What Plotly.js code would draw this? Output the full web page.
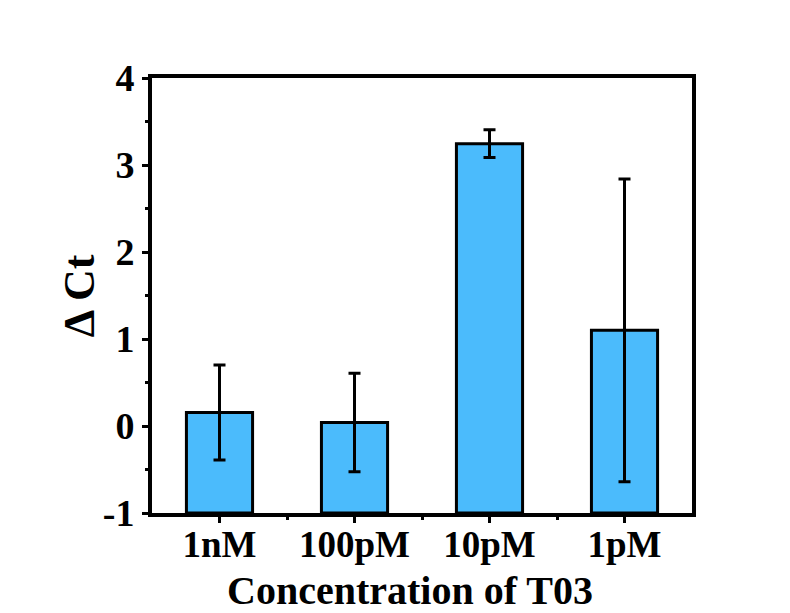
<!DOCTYPE html>
<html>
<head>
<meta charset="utf-8">
<script src="https://cdn.plot.ly/plotly-3.0.1.min.js"></script>
<style>html,body{margin:0;padding:0;background:#fff;}#chart{width:790px;height:613px;}</style>
</head>
<body>
<div id="chart"></div>
<script>
const categories = ["1nM", "100pM", "10pM", "1pM"];
const deltaCt = [0.155, 0.04, 3.245, 1.10];
const errors = [0.545, 0.565, 0.16, 1.74];
const yTickVals = [-1, 0, 1, 2, 3, 4];
const yTickText = ["-1", "0", "1", "2", "3", "4"];
const xTitle = "Concentration of T03";
const yTitle = "Δ Ct";
const baseline = -1;

const xs = categories.map((c, i) => i);
const font = "'Liberation Serif', 'Times New Roman', serif";

const bars = {
  type: "bar",
  x: xs,
  y: deltaCt.map(v => v - baseline),
  base: baseline,
  width: 0.49,
  marker: {color: "rgb(75,187,252)", line: {color: "#000", width: 3}},
  hoverinfo: "skip"
};
const errs = {
  type: "scatter",
  mode: "markers",
  x: xs,
  y: deltaCt,
  marker: {size: 0.1, color: "rgba(0,0,0,0)"},
  error_y: {type: "data", array: errors, visible: true, color: "#000", thickness: 3, width: 6},
  hoverinfo: "skip"
};

const layout = {
  width: 790, height: 613,
  margin: {l: 152, r: 98, t: 78, b: 100},
  paper_bgcolor: "#fff", plot_bgcolor: "#fff",
  showlegend: false,
  font: {family: font, color: "#000"},
  xaxis: {
    range: [-0.5, 3.5],
    tickmode: "array", tickvals: xs, ticktext: categories,
    ticks: "outside", ticklen: 6, tickwidth: 3, tickcolor: "#000",
    ticklabelstandoff: -10,
    minor: {tickmode: "array", tickvals: [0.5, 1.5, 2.5], ticks: "outside", ticklen: 3, tickwidth: 3, tickcolor: "#000"},
    showline: true, linewidth: 4, linecolor: "#000", mirror: true,
    showgrid: false, zeroline: false,
    tickfont: {family: font, size: 37, color: "#000", weight: "bold"}
  },
  yaxis: {
    range: [-1, 4],
    tickmode: "array", tickvals: yTickVals, ticktext: yTickText,
    ticks: "outside", ticklen: 6, tickwidth: 3, tickcolor: "#000",
    minor: {tickmode: "linear", tick0: -0.5, dtick: 1, ticks: "outside", ticklen: 3, tickwidth: 3, tickcolor: "#000"},
    showline: true, linewidth: 4, linecolor: "#000", mirror: true,
    showgrid: false, zeroline: false,
    tickfont: {family: font, size: 38, color: "#000", weight: "bold"}
  },
  annotations: [
    {text: "<b>" + xTitle + "</b>", xref: "paper", yref: "paper", x: 0.478, y: -0.178,
     xanchor: "center", yanchor: "middle", showarrow: false,
     font: {family: font, size: 40, color: "#000"}},
    {text: "<b>" + yTitle + "</b>", xref: "paper", yref: "paper", x: -0.134, y: 0.5,
     xanchor: "center", yanchor: "middle", textangle: -90, showarrow: false,
     font: {family: font, size: 44, color: "#000"}}
  ]
};

Plotly.newPlot("chart", [bars, errs], layout, {displayModeBar: false, staticPlot: true});
</script>
</body>
</html>
